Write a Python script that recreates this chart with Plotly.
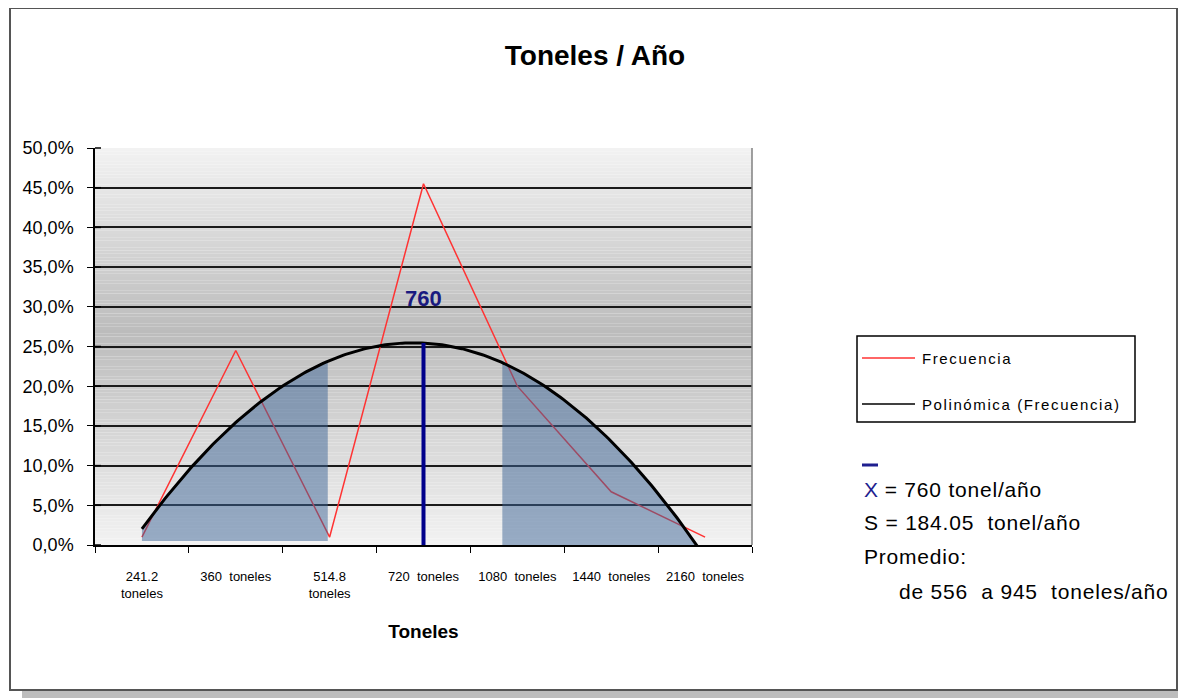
import numpy as np
import plotly.graph_objects as go

# ---------------- data ----------------
categories = ["241.2<br>toneles", "360  toneles", "514.8<br>toneles", "720  toneles",
              "1080  toneles", "1440  toneles", "2160  toneles"]
positions = [1, 2, 3, 4, 5, 6, 7]
frecuencia = [1.0, 24.5, 1.0, 45.5, 20.0, 6.7, 1.0]   # %
media_label = "760"
media_pos = 4
shade_left = [1.0, 2.98]     # x-range of shaded area (category units)
shade_right = [4.84, 7.0]
shade_left_base = 0.5

# polynomial (order 2) trendline, as Excel's "Polinómica"
coef = np.polyfit(positions, frecuencia, 2)
poly = np.poly1d(coef)
xt = np.linspace(1, 7, 200)
yt = poly(xt)

FONT = "Liberation Sans Narrow, Liberation Sans, Arial, sans-serif"
OFF = 8                      # page body margin
W, H = 1186 - OFF, 698 - OFF
L, R, T, B = 95, 752, 148, 545   # plot area in page pixels


def px(x):
    return (x - L) / (R - L)


def py(y):
    return (B - y) / (B - T)


def spaced(t, s):
    return f"<span style='letter-spacing:{s}px'>{t}</span>"


fig = go.Figure()

# red line
fig.add_trace(go.Scatter(x=positions, y=frecuencia, mode="lines", name="Frecuencia",
                         line=dict(color="#ff3333", width=1.5), showlegend=False))

# shaded regions
for (a, b), base in [(shade_left, shade_left_base), (shade_right, 0.0)]:
    xs = np.linspace(a, b, 80)
    ys = np.maximum(poly(xs), 0)
    fx = np.concatenate([[a], xs, [b]])
    fy = np.concatenate([[base], ys, [base]])
    fig.add_trace(go.Scatter(x=fx, y=fy, mode="lines", fill="toself",
                             fillcolor="rgba(60,100,150,0.5)", line=dict(width=0),
                             showlegend=False, hoverinfo="skip"))

# trendline
fig.add_trace(go.Scatter(x=xt, y=yt, mode="lines", name="Polinómica (Frecuencia)",
                         line=dict(color="black", width=3), showlegend=False))

# mean line
fig.add_trace(go.Scatter(x=[media_pos, media_pos], y=[0, poly(media_pos)], mode="lines",
                         line=dict(color="#00008b", width=4), showlegend=False))

shapes = []
# gradient background of the plot area
n = 120
for i in range(n):
    f0, f1 = i / n, (i + 1) / n
    fm = (f0 + f1) / 2
    c = 0.54
    if fm < c:
        v = 242 - (242 - 188) * (fm / c)
    else:
        v = 188 + (242 - 188) * ((fm - c) / (1 - c))
    v = int(round(v))
    shapes.append(dict(type="rect", xref="paper", yref="paper", x0=0, x1=1, y0=f0, y1=f1,
                       fillcolor=f"rgb({v},{v},{v})", line=dict(width=0), layer="below"))
# plot area right border
shapes.append(dict(type="line", xref="paper", yref="paper", x0=1, x1=1, y0=0, y1=1,
                   line=dict(color="#808080", width=1.5)))
# y-axis cross ticks (inside part)
for k in range(11):
    shapes.append(dict(type="line", xref="paper", yref="paper", x0=0, x1=px(L + 6),
                       y0=k / 10, y1=k / 10, line=dict(color="black", width=1.5)))
# outer frame and shadow
shapes.append(dict(type="rect", xref="paper", yref="paper", x0=px(22), x1=px(1186),
                   y0=py(698), y1=py(691), fillcolor="#bdbdbd", line=dict(width=0), layer="below"))
shapes.append(dict(type="rect", xref="paper", yref="paper", x0=px(10), x1=px(1177),
                   y0=py(690), y1=py(8), line=dict(color="#555555", width=2)))
# legend box
shapes.append(dict(type="rect", xref="paper", yref="paper", x0=px(857), x1=px(1135),
                   y0=py(422), y1=py(336), line=dict(color="black", width=1.5)))
shapes.append(dict(type="line", xref="paper", yref="paper", x0=px(862), x1=px(915),
                   y0=py(358), y1=py(358), line=dict(color="#ff3333", width=1.5)))
shapes.append(dict(type="line", xref="paper", yref="paper", x0=px(862), x1=px(915),
                   y0=py(404), y1=py(404), line=dict(color="black", width=1.5)))
# bar over X
shapes.append(dict(type="line", xref="paper", yref="paper", x0=px(862), x1=px(878),
                   y0=py(465), y1=py(465), line=dict(color="#1f1f8f", width=3)))

ann = []
ann.append(dict(x=media_pos, y=31.0, xref="x", yref="y", text=f"<b>{media_label}</b>",
                showarrow=False, font=dict(color="#1a1a80", size=22, family=FONT)))
ann.append(dict(x=px(920), y=py(358), xref="paper", yref="paper", text=spaced("Frecuencia", 1.6),
                xanchor="left", yanchor="middle", showarrow=False,
                font=dict(size=15, family=FONT, color="black")))
ann.append(dict(x=px(920), y=py(404), xref="paper", yref="paper",
                text=spaced("Polinómica (Frecuencia)", 1.6),
                xanchor="left", yanchor="middle", showarrow=False,
                font=dict(size=15, family=FONT, color="black")))
info = [(862, 489, "<span style='color:#1f1f8f'>X</span>" + spaced(" = 760 tonel/año", 0.8)),
        (862, 522, spaced("S = 184.05  tonel/año", 0.8)),
        (862, 556, spaced("Promedio:", 0.8)),
        (897, 591, spaced("de 556  a 945  toneles/año", 0.8))]
for x0, y0, t in info:
    ann.append(dict(x=px(x0), y=py(y0), xref="paper", yref="paper", text=t,
                    xanchor="left", yanchor="middle", showarrow=False,
                    font=dict(size=21, family=FONT, color="black")))

fig.update_layout(
    width=W, height=H,
    margin=dict(l=L - OFF, r=W - (R - OFF), t=T - OFF, b=H - (B - OFF)),
    paper_bgcolor="white", plot_bgcolor="rgba(0,0,0,0)",
    separators=", ",
    title=dict(text="<b>Toneles / Año</b>", x=(595 - OFF) / W, xanchor="center",
               y=1 - (55 - OFF) / H, yanchor="middle",
               font=dict(size=28, family=FONT, color="black")),
    shapes=shapes, annotations=ann, showlegend=False,
    xaxis=dict(range=[0.5, 7.5], tickvals=positions, ticktext=categories, ticks="",
               showgrid=False, zeroline=False, showline=True, linecolor="black", linewidth=1.5,
               tickfont=dict(size=13, family=FONT, color="black"), ticklabelstandoff=19,
               minor=dict(tickvals=[0.5 + i for i in range(8)], ticks="outside", ticklen=6,
                          tickcolor="black", showgrid=False),
               title=dict(text="<b>Toneles</b>", font=dict(size=19, family=FONT, color="black"),
                          standoff=24)),
    yaxis=dict(range=[0, 50], dtick=5, tickformat=".1f", ticksuffix="%", showgrid=True,
               gridcolor="#1a1a1a", gridwidth=1.5, zeroline=False, showline=True,
               linecolor="black", linewidth=1.5, ticks="outside", ticklen=6, tickcolor="black",
               ticklabelstandoff=10,
               tickfont=dict(size=18, family=FONT, color="black")),
)

fig.write_html("out.html")
